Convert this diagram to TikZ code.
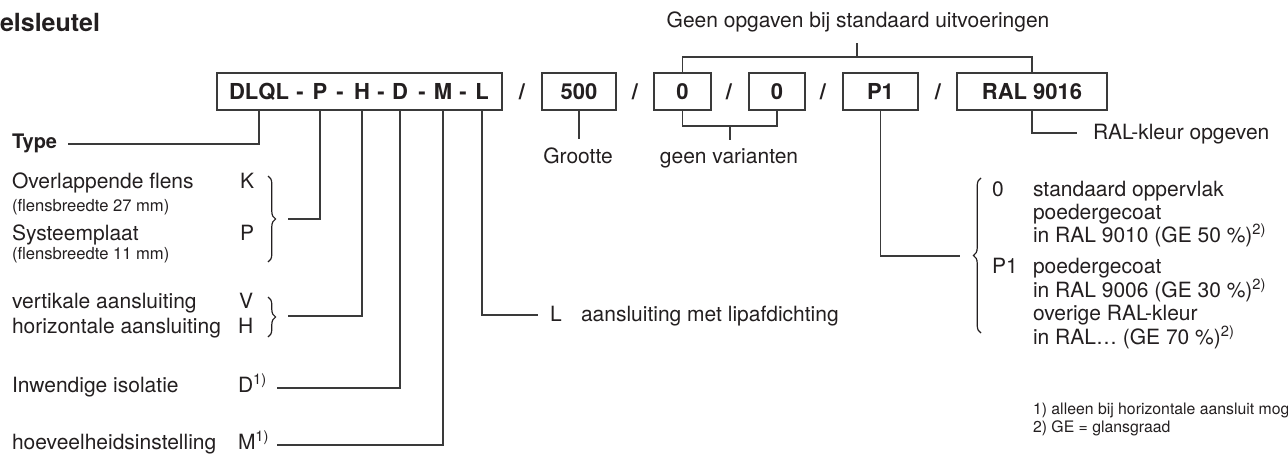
\documentclass[tikz,border=0pt]{standalone}
\usepackage{fontspec}
\setmainfont{TeX Gyre Heros}
\usetikzlibrary{decorations.pathreplacing}
\definecolor{ink}{HTML}{231F20}
\definecolor{wirec}{HTML}{3A3A3A}
\begin{document}
\begin{tikzpicture}[x=0.5pt,y=-0.5pt,
  every node/.style={inner sep=0pt, outer sep=0pt, text=ink},
  txt/.style={font=\fontsize{10.5}{12}\selectfont, anchor=base west},
  small/.style={font=\fontsize{8.3}{10}\selectfont, anchor=base west},
  foot/.style={font=\fontsize{7.9}{9}\selectfont, anchor=base west},
  code/.style={font=\bfseries\fontsize{11}{13}\selectfont, anchor=base},
  codebox/.style={draw=wirec, line width=0.6pt, minimum height=18.5pt, font=\bfseries\fontsize{11}{13}\selectfont},
  wire/.style={draw=wirec, line width=0.55pt},
  bracedeco/.style={draw=ink, line width=0.6pt, decorate, decoration={brace, amplitude=3.8pt}},
]
\useasboundingbox (0,0) rectangle (1288,455);

% title
\node[font=\bfseries\fontsize{12.5}{14}\selectfont, anchor=base west] (title) at (0,32) {elsleutel};

% top text
\node[txt, anchor=base] (topt) at (858,27) {Geen opgaven bij standaard uitvoeringen};

% code boxes
\node[codebox, minimum width=142.5pt] (b1) at (359.5,91.5) {};
\node[codebox, minimum width=37pt] (b2) at (579,91.5) {500};
\node[codebox, minimum width=28.5pt] (b3) at (682.5,91.5) {0};
\node[codebox, minimum width=28pt] (b4) at (777,91.5) {0};
\node[codebox, minimum width=37.5pt] (b5) at (880.5,91.5) {P1};
\node[codebox, minimum width=75pt] (b6) at (1032,91.5) {RAL 9016};

% letters in first box
\node[code] (kT) at (259,99.5) {DLQL};
\node[code] (d1) at (300,99.5) {-};
\node[code] (kP) at (320,99.5) {P};
\node[code] (d2) at (340,99.5) {-};
\node[code] (kH) at (362,99.5) {H};
\node[code] (d3) at (381,99.5) {-};
\node[code] (kD) at (400,99.5) {D};
\node[code] (d4) at (422,99.5) {-};
\node[code] (kM) at (443,99.5) {M};
\node[code] (d5) at (463,99.5) {-};
\node[code] (kL) at (482,99.5) {L};

% slashes
\node[code] (s1) at (522,99.5) {/};
\node[code] (s2) at (635,99.5) {/};
\node[code] (s3) at (729,99.5) {/};
\node[code] (s4) at (823,99.5) {/};
\node[code] (s5) at (938,99.5) {/};

% left labels
\node[font=\bfseries\fontsize{10}{12}\selectfont, anchor=base west] (type) at (12,148) {Type};
\node[txt] (ovl) at (12,188) {Overlappende flens};
\node[small] (ovls) at (12,211) {(flensbreedte 27 mm)};
\node[txt] (sys) at (12,240) {Systeemplaat};
\node[small] (syss) at (12,259) {(flensbreedte 11 mm)};
\node[txt] (lK) at (240,188) {K};
\node[txt] (lP) at (240,240) {P};
\node[txt] (vert) at (12,308) {vertikale aansluiting};
\node[txt] (hor) at (12,333) {horizontale aansluiting};
\node[txt] (lV) at (239,308) {V};
\node[txt] (lH) at (238,333) {H};
\node[txt] (inw) at (12,392) {Inwendige isolatie};
\node[txt] (lD) at (238,392) {D\textsuperscript{1)}};
\node[txt] (hoe) at (12,449) {hoeveelheidsinstelling};
\node[txt] (lM) at (238,449) {M\textsuperscript{1)}};

% L label
\node[txt] (lL) at (550,321) {L};
\node[txt] (lLt) at (581,321) {aansluiting met lipafdichting};

% below boxes
\node[txt, anchor=base] (groot) at (578,163) {Grootte};
\node[txt, anchor=base] (geenv) at (729,163) {geen varianten};
\node[txt] (ralk) at (1093,139) {RAL-kleur opgeven};

% right labels
\node[txt] (r0) at (992,196) {0};
\node[txt] (r0a) at (1033,196) {standaard oppervlak};
\node[txt] (r0b) at (1033,219) {poedergecoat};
\node[txt] (r0c) at (1033,242) {in RAL 9010 (GE 50~\%)\textsuperscript{2)}};
\node[txt] (rP) at (992,273) {P1};
\node[txt] (rPa) at (1033,273) {poedergecoat};
\node[txt] (rPb) at (1033,297) {in RAL 9006 (GE 30~\%)\textsuperscript{2)}};
\node[txt] (rPc) at (1033,320) {overige RAL-kleur};
\node[txt] (rPd) at (1033,344) {in RAL… (GE 70~\%)\textsuperscript{2)}};

% footnotes
\node[foot] (f1) at (1033,414) {1) alleen bij horizontale aansluit mog};
\node[foot] (f2) at (1033,432) {2) GE = glansgraad};

% coordinates
\coordinate (cType) at (68,144);
\coordinate (cP) at (288,219);
\coordinate (cH) at (288,316);
\coordinate (cD) at (277,388);
\coordinate (cM) at (277,445);
\coordinate (cL) at (538,315);
\coordinate (gv) at (730,126);
\coordinate (gtop) at (857,57);
\coordinate (cR) at (1077,133);
\coordinate (cP1) at (960,256);

% connectors
\draw[wire] (kT |- b1.south) |- (cType);
\draw[wire] (kP |- b1.south) |- (cP);
\draw[wire] (kH |- b1.south) |- (cH);
\draw[wire] (kD |- b1.south) |- (cD);
\draw[wire] (kM |- b1.south) |- (cM);
\draw[wire] (kL |- b1.south) |- (cL);
\draw[wire] (b2.south) -- ([yshift=4pt]groot.north -| b2.south);
\draw[wire] (b3.south) |- (gv) -| (b4.south);
\draw[wire] (gv) -- ([yshift=4pt]geenv.north -| gv);
\draw[wire] (b3.north) |- (gtop) -| (b6.north);
\draw[wire] (gtop) -- ++(0,-14);
\draw[wire] (b6.south) |- (cR);
\draw[wire] (b5.south) |- (cP1);

% braces
\draw[bracedeco] (268,176) -- (268,262);
\draw[bracedeco] (268,297) -- (268,337);
\draw[bracedeco] (981,333) -- (981,178);
\end{tikzpicture}
\end{document}
